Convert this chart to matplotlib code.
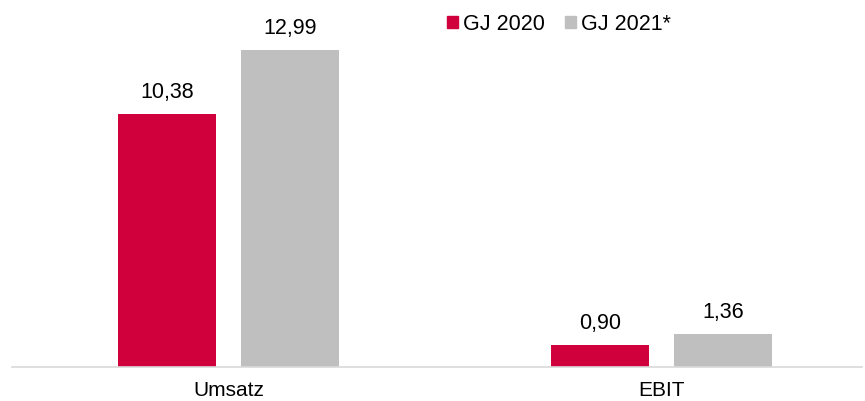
import matplotlib
matplotlib.use("Agg")
import matplotlib.pyplot as plt
from matplotlib.patches import Patch
import numpy as np

categories = ["Umsatz", "EBIT"]
series_names = ["GJ 2020", "GJ 2021*"]
gj2020 = [10.38, 0.90]
gj2021 = [12.99, 1.36]
colors = ["#D0003C", "#BFBFBF"]

plt.rcParams['font.family'] = ['Liberation Sans', 'DejaVu Sans']

W, H = 865, 401
fig = plt.figure(figsize=(W/100, H/100), dpi=100)
left_px, right_px, base_px = 12, 862, 367
ax = fig.add_axes([left_px/W, (H-base_px)/H, (right_px-left_px)/W, base_px/H])

x = np.arange(len(categories))
bw = 0.226
off = 0.1425
b1 = ax.bar(x - off, gj2020, bw, color=colors[0], label=series_names[0])
b2 = ax.bar(x + off, gj2021, bw, color=colors[1], label=series_names[1])

for bars, vals in ((b1, gj2020), (b2, gj2021)):
    for r, v in zip(bars, vals):
        ax.annotate(f"{v:.2f}".replace(".", ","), (r.get_x() + r.get_width()/2, v),
                    xytext=(0, 8), textcoords="offset points", ha="center", va="bottom",
                    fontsize=15.5, color="#000000")

px_per_unit = 433
ax.set_xlim(-0.5, -0.5 + (right_px - left_px)/px_per_unit)
ax.set_ylim(0, 367/24.4)
ax.set_xticks(x)
ax.set_xticklabels(categories, fontsize=15)
ax.tick_params(axis='x', length=0, pad=10)
ax.set_yticks([])
for s in ["top", "right", "left"]:
    ax.spines[s].set_visible(False)
ax.spines["bottom"].set_color("#D9D9D9")
ax.spines["bottom"].set_linewidth(1.2)

handles = [Patch(color=c) for c in colors]
fig.legend(handles, series_names, loc="center", bbox_to_anchor=(559/W, 1 - 24/H),
           ncol=2, frameon=False, fontsize=15.5, handlelength=0.5, handleheight=0.5,
           handletextpad=0.25, columnspacing=0.95, borderaxespad=0)

fig.savefig("out.png", dpi=100)
